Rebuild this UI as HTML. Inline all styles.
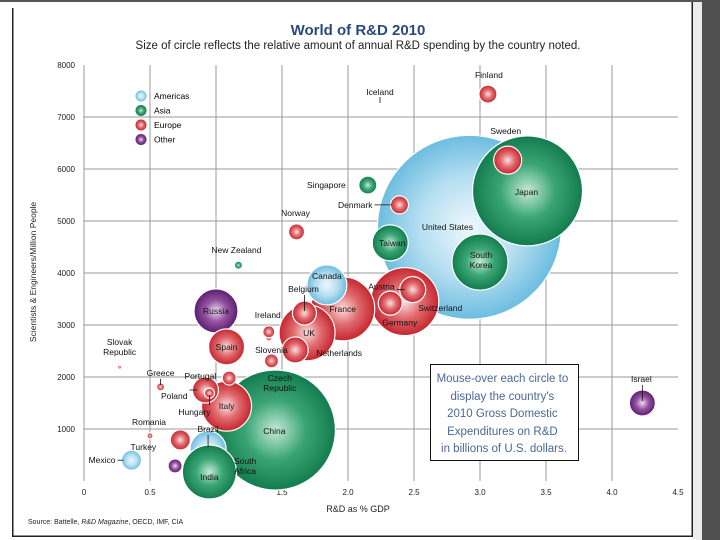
<!DOCTYPE html>
<html><head><meta charset="utf-8"><style>
html,body{margin:0;padding:0;background:#fff;width:720px;height:540px;overflow:hidden}
svg{display:block;font-family:"Liberation Sans",sans-serif}
</style></head><body>
<svg id="chart" width="720" height="540" viewBox="0 0 720 540">
<defs>
<radialGradient id="g-am" cx="50%" cy="50%" r="50%"><stop offset="0" stop-color="#eef8fd"/><stop offset="0.55" stop-color="#b5def1"/><stop offset="1" stop-color="#6cbde0"/></radialGradient>
<radialGradient id="g-as" cx="50%" cy="50%" r="50%"><stop offset="0" stop-color="#c5ead6"/><stop offset="0.5" stop-color="#3aa574"/><stop offset="1" stop-color="#137c4e"/></radialGradient>
<radialGradient id="g-eu" cx="50%" cy="50%" r="50%"><stop offset="0" stop-color="#fbe0e0"/><stop offset="0.5" stop-color="#e06a6e"/><stop offset="1" stop-color="#c5262e"/></radialGradient>
<radialGradient id="g-ot" cx="50%" cy="50%" r="50%"><stop offset="0" stop-color="#eedcf2"/><stop offset="0.5" stop-color="#93529f"/><stop offset="1" stop-color="#5a1d70"/></radialGradient>
</defs>
<rect x="0" y="0" width="720" height="2" fill="#555"/>
<rect x="12" y="8" width="1.5" height="529" fill="#222"/>
<rect x="12" y="535.5" width="681" height="1.5" fill="#222"/>
<rect x="691.5" y="2" width="1.5" height="535" fill="#222"/>
<rect x="693" y="2" width="9" height="538" fill="#ececec"/>
<rect x="702" y="0" width="18" height="540" fill="#505050"/>
<text x="358" y="35" text-anchor="middle" font-size="15" font-weight="bold" fill="#2a4a7c">World of R&amp;D 2010</text>
<text x="358" y="49" text-anchor="middle" font-size="11.5" fill="#222">Size of circle reflects the relative amount of annual R&amp;D spending by the country noted.</text>
<g id="grid"></g><g id="ticks"></g><g id="bubbles"></g><g id="labels"></g>
<text transform="translate(36,272) rotate(-90)" text-anchor="middle" font-size="8.5" fill="#222">Scientists &amp; Engineers/Million People</text>
<text x="358" y="512" text-anchor="middle" font-size="9" fill="#222">R&amp;D as % GDP</text>
<text x="28" y="524" font-size="7" fill="#222">Source: Battelle, <tspan font-style="italic">R&amp;D Magazine</tspan>, OECD, IMF, CIA</text>
<g>
<circle cx="141" cy="96" r="5.5" fill="url(#g-am)"/>
<circle cx="141" cy="110.5" r="5.5" fill="url(#g-as)"/>
<circle cx="141" cy="125" r="5.5" fill="url(#g-eu)"/>
<circle cx="141" cy="139.5" r="5.5" fill="url(#g-ot)"/>
<text x="154" y="99" font-size="8.5">Americas</text>
<text x="154" y="113.5" font-size="8.5">Asia</text>
<text x="154" y="128" font-size="8.5">Europe</text>
<text x="154" y="142.5" font-size="8.5">Other</text>
</g>
<g>
<rect x="430.5" y="364.5" width="148" height="96" fill="#fff" stroke="#111" stroke-width="1"/>
<text text-anchor="middle" font-size="11.5" fill="#4a6898">
<tspan x="504" y="382">Mouse-over each circle to</tspan>
<tspan x="504" y="400">display the country's</tspan>
<tspan x="504" y="417">2010 Gross Domestic</tspan>
<tspan x="504" y="435">Expenditures on R&amp;D</tspan>
<tspan x="504" y="452">in billions of U.S. dollars.</tspan>
</text></g>
</svg>
<script>
const countries=["United States","China","Japan","Germany","France","Korea","UK","Italy","Russia","Canada","Brazil","India","Spain","Taiwan","Sweden","Netherlands","Switzerland","Austria","Belgium","Poland","Mexico","Turkey","Israel","South Africa","Czech","Slovenia","Denmark","Finland","Singapore","Norway","Ireland","Portugal","Hungary","Greece","Romania","New Zealand","Slovak"];
const region=["am","as","as","eu","eu","as","eu","eu","ot","am","am","as","eu","as","eu","eu","eu","eu","eu","eu","am","eu","ot","ot","eu","eu","eu","eu","as","eu","eu","eu","eu","eu","eu","as","eu"];
const gdpPct=[2.92,1.45,3.36,2.43,1.96,3.0,1.69,1.08,1.0,1.84,0.94,0.95,1.08,2.32,3.21,1.6,2.32,2.49,1.67,0.92,0.36,0.73,4.23,0.69,1.4,1.42,2.39,3.06,2.15,1.61,1.4,1.1,0.95,0.58,0.5,1.17,0.27];
const scientists=[4880,980,5580,3450,3310,4210,2850,1440,3270,3770,615,173,2580,4580,6170,2520,3420,3680,3230,1750,400,790,1500,290,2750,2310,5310,7440,5690,4790,2870,1980,1690,1810,870,4150,2190];
const spending=[92,60,55,34,32,28,28,25,22,20,18,27,18,18,14,13,12,13,12,13,10,10,13,7,3,7,9,9,9,8,6,7,5,4,3,4,2];
const xTicks=[0,0.5,1,1.5,2,2.5,3,3.5,4,4.5];
const xTickLabels=["0","0.5","1.0","1.5","2.0","2.5","3.0","3.5","4.0","4.5"];
const yTicks=[1000,2000,3000,4000,5000,6000,7000,8000];
const yTickLabels=["1000","2000","3000","4000","5000","6000","7000","8000"];
const labelLayout={
"United States":[["United States"],-22,3,"middle"],"China":[["China"],-1,4,"middle"],"Japan":[["Japan"],-1,4,"middle"],
"Germany":[["Germany"],-5,24,"middle"],"France":[["France"],0,3,"middle"],"Korea":[["South","Korea"],1,-4,"middle"],
"UK":[["UK"],2,3,"middle"],"India":[["India"],0,8,"middle"],"Italy":[["Italy"],0,3,"middle"],"Russia":[["Russia"],0,3,"middle"],
"Canada":[["Canada"],0,-6,"middle"],"Brazil":[["Brazil"],0,-17,"middle",1],"Spain":[["Spain"],0,3,"middle"],"Taiwan":[["Taiwan"],2,3,"middle"],
"Sweden":[["Sweden"],-2,-26,"middle"],"Netherlands":[["Netherlands"],21,6,"start"],"Switzerland":[["Switzerland"],28,8,"start"],
"Austria":[["Austria"],-18,0,"end",2],"Belgium":[["Belgium"],-1,-21,"middle",1],"Poland":[["Poland"],-18,9,"end",2],
"Mexico":[["Mexico"],-16,3,"end",2],"Turkey":[["Turkey"],-37,10,"middle"],"Israel":[["Israel"],-1,-21,"middle",1],
"South Africa":[["South","Africa"],70,-2,"middle"],"Czech":[["Czech","Republic"],11,43,"middle"],"Slovenia":[["Slovenia"],0,-8,"middle"],
"Denmark":[["Denmark"],-27,3,"end",2],"Finland":[["Finland"],1,-16,"middle"],"Singapore":[["Singapore"],-22,3,"end"],
"Norway":[["Norway"],-1,-16,"middle"],"Ireland":[["Ireland"],-1,-14,"middle"],"Portugal":[["Portugal"],-13,1,"end"],
"Hungary":[["Hungary"],-15,22,"middle",1],"Greece":[["Greece"],0,-11,"middle",1],"Romania":[["Romania"],-1,-11,"middle"],
"New Zealand":[["New Zealand"],-2,-12,"middle"],"Slovak":[["Slovak","Republic"],0,-22,"middle"]};
const NS="http://www.w3.org/2000/svg";
const X0=84,XS=132,Y0=481,YS=0.052;
function xs(v){return X0+v*XS;}
function ys(v){return Y0-v*YS;}
function mk(tag,attrs,parent){const e=document.createElementNS(NS,tag);for(const k in attrs)e.setAttribute(k,attrs[k]);parent.appendChild(e);return e;}
const grid=document.getElementById('grid'),ticks=document.getElementById('ticks'),bub=document.getElementById('bubbles'),lab=document.getElementById('labels');
xTicks.forEach((v,i)=>{
  if(v<4.5){const l=mk('line',{x1:xs(v),x2:xs(v),y1:ys(8000),y2:ys(0),stroke:'#9a9a9a','stroke-width':1},grid);
  
  }
  const t=mk('text',{x:xs(v),y:495,'text-anchor':'middle','font-size':8,fill:'#222'},ticks);
  t.textContent=xTickLabels[i];
  
  
});
yTicks.forEach((v,i)=>{
  if(v<8000){const l=mk('line',{x1:xs(0),x2:xs(4.5),y1:ys(v),y2:ys(v),stroke:'#9a9a9a','stroke-width':1},grid);
  
  }
  const t=mk('text',{x:75,y:ys(v)+3,'text-anchor':'end','font-size':8,fill:'#222'},ticks);
  t.textContent=yTickLabels[i];
  
  
});
countries.forEach((c,i)=>{
  const cx=xs(gdpPct[i]),cy=ys(scientists[i]);
  const b=mk('circle',{cx:cx,cy:cy,r:spending[i],fill:'url(#g-'+region[i]+')',stroke:'#fff','stroke-width':1.2},bub);
  
  
  const L=labelLayout[c];if(!L)return;
  const lx=cx+L[1],ly=cy+L[2];
  if(L[4]===1){const ln=mk('line',{x1:cx,y1:ly+(L[2]<0?3:-10),x2:cx,y2:cy+(L[2]<0?-2:2),stroke:'#111','stroke-width':0.8},lab);
    
    }
  if(L[4]===2){const ln=mk('line',{x1:lx+2,y1:cy,x2:cx-Math.min(spending[i],8),y2:cy,stroke:'#111','stroke-width':0.8},lab);
    
    }
  const t=mk('text',{x:lx,y:ly,'text-anchor':L[3],'font-size':8.5,fill:'#111'},lab);
  
  
  L[0].forEach((s,k)=>{const sp=mk('tspan',{x:lx,dy:k?10:0},t);sp.textContent=s;});
});
{const t=mk('text',{x:380,y:95,'text-anchor':'middle','font-size':8.5,fill:'#111'},lab);t.textContent='Iceland';


const ln=mk('line',{x1:380,y1:97,x2:380,y2:103,stroke:'#111','stroke-width':0.8},lab);

}
</script>
</body></html>
